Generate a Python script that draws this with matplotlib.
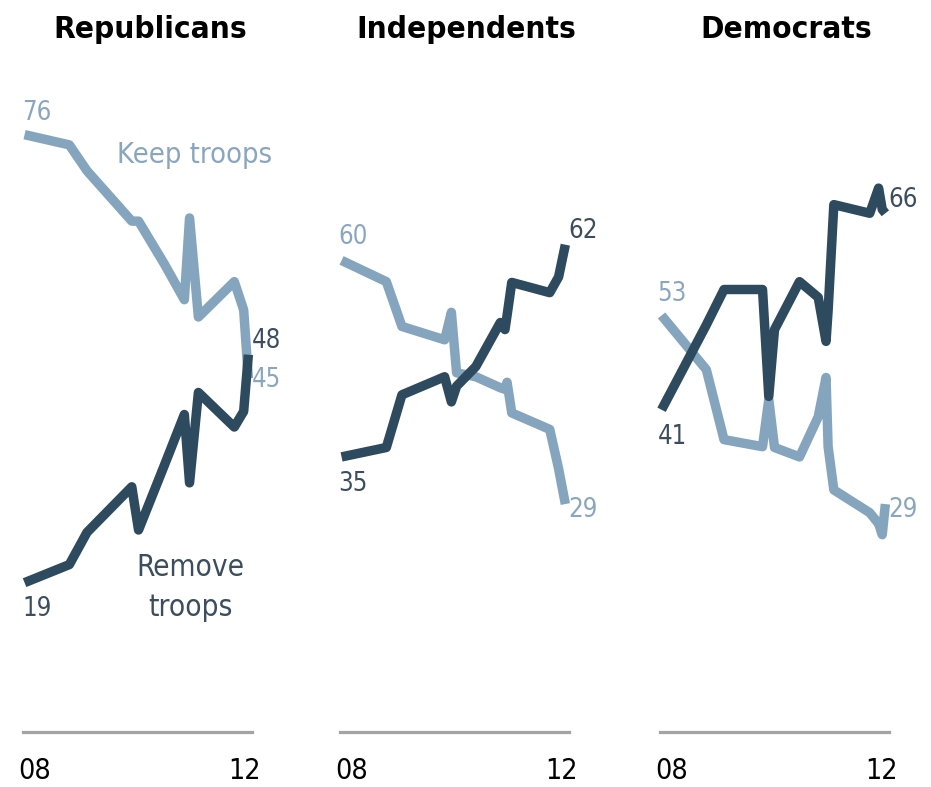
import matplotlib
matplotlib.use("Agg")
import matplotlib.pyplot as plt
import matplotlib.font_manager as fm

# ---------------- data ----------------
panels = ["Republicans", "Independents", "Democrats"]

rep_dates = [2008.00, 2008.86, 2009.20, 2010.06, 2010.19, 2010.69, 2011.07,
             2011.17, 2011.34, 2012.03, 2012.21, 2012.30]
rep_keep = [76, 74.7, 71.4, 65, 65, 59.5, 55, 65.4, 52.8, 57.3, 53.7, 45]
rep_remove = [19, 21.3, 25.4, 31.2, 25.7, 34, 40.4, 31.7, 43.2, 38.8, 40.8, 48]

ind_dates = [2008.00, 2008.86, 2009.16, 2009.98, 2010.11, 2010.21, 2010.58,
             2011.05, 2011.14, 2011.18, 2011.27, 2012.00, 2012.17, 2012.30]
ind_keep = [60, 57.3, 51.6, 49.9, 53.4, 45.7, 45.2, 43.8, 43.6, 44.5, 40.6,
            38.5, 33.5, 29]
ind_remove = [35, 36.2, 42.9, 45.2, 42.0, 44.0, 46.5, 52.1, 51.2, 53.0, 57.2,
              55.9, 57.9, 62]

dem_dates = [2008.00, 2008.86, 2009.20, 2009.94, 2010.06, 2010.17, 2010.65,
             2011.01, 2011.16, 2011.20, 2011.31, 2012.00, 2012.17, 2012.24,
             2012.30]
dem_keep = [53, 46.1, 37.2, 36.3, 42.3, 36.2, 35, 40.1, 45.1, 36.3, 30.8,
            27.9, 26.5, 25.1, 29]
dem_remove = [41, 51.8, 56.3, 56.3, 42.7, 51.2, 57.3, 55.3, 49.7, 53.6, 67.1,
              66, 69.2, 66.5, 66]

tick_labels = ["08", "12"]
series_labels = ["Keep troops", "Remove troops"]

# ---------------- style ----------------
W, H = 931, 787
DARK = "#2e4a5f"
LIGHT = "#85a5bf"
DARK_TXT = "#3b4d5f"
LIGHT_TXT = "#8aa6bf"
GRAY = "#a3a3a3"

names = {f.name for f in fm.fontManager.ttflist}
if "Liberation Sans Narrow" in names:
    FAM = ["Liberation Sans Narrow", "DejaVu Sans"]
    STRETCH = "normal"
    K = 1.0
else:
    FAM = ["DejaVu Sans"]
    STRETCH = "condensed"
    K = 0.82

fig = plt.figure(figsize=(W / 100, H / 100), dpi=100)
fig.patch.set_facecolor("white")

def px_rect(x0, x1, ytop, ybot):
    return [x0 / W, 1 - ybot / H, (x1 - x0) / W, (ybot - ytop) / H]

axes_px = [(23, 252), (340, 569), (660, 889)]
title_cx = [150, 466, 786]
data = [(rep_dates, rep_keep, rep_remove),
        (ind_dates, ind_keep, ind_remove),
        (dem_dates, dem_keep, dem_remove)]

start_keep_off = [(-2, 9), (-3, 10), (-4, 8)]
start_remove_off = [(-2, -13), (-3, -14), (-4, -14)]
end_keep_off = [(3, -2), (3, -6), (3, -6)]
end_remove_off = [(3, 14), (3, 14), (3, 13)]

for i, (name, (dates, keep, remove)) in enumerate(zip(panels, data)):
    x0, x1 = axes_px[i]
    ax = fig.add_axes(px_rect(x0, x1, 60, 732))
    ax.set_xlim(2007.97, 2012.37)
    ax.set_ylim(0, 85.5)
    ax.axis("off")
    ax.axhline(0, color=GRAY, lw=2.3, clip_on=False, zorder=1)

    ax.plot(dates, keep, color=LIGHT, lw=6.8, solid_joinstyle="round",
            solid_capstyle="butt", zorder=2, clip_on=False)
    ax.plot(dates, remove, color=DARK, lw=6.8, solid_joinstyle="round",
            solid_capstyle="butt", zorder=3, clip_on=False)

    numsize = 22.5 * K
    ax.annotate(f"{keep[0]:.0f}", (dates[0], keep[0]), xytext=start_keep_off[i],
                textcoords="offset pixels", ha="left", va="bottom",
                color=LIGHT_TXT, fontsize=numsize, family=FAM, fontstretch=STRETCH)
    ax.annotate(f"{remove[0]:.0f}", (dates[0], remove[0]), xytext=start_remove_off[i],
                textcoords="offset pixels", ha="left", va="top",
                color=DARK_TXT, fontsize=numsize, family=FAM, fontstretch=STRETCH)
    ax.annotate(f"{keep[-1]:.0f}", (dates[-1], keep[-1]), xytext=end_keep_off[i],
                textcoords="offset pixels", ha="left", va="center",
                color=LIGHT_TXT, fontsize=numsize, family=FAM, fontstretch=STRETCH)
    ax.annotate(f"{remove[-1]:.0f}", (dates[-1], remove[-1]), xytext=end_remove_off[i],
                textcoords="offset pixels", ha="left", va="center",
                color=DARK_TXT, fontsize=numsize, family=FAM, fontstretch=STRETCH)

    ax.annotate(tick_labels[0], (0, 0), xycoords="axes fraction",
                xytext=(-5, -39), textcoords="offset pixels", ha="left", va="center",
                color="black", fontsize=25 * K, family=FAM, fontstretch=STRETCH)
    ax.annotate(tick_labels[1], (1, 0), xycoords="axes fraction",
                xytext=(9, -39), textcoords="offset pixels", ha="right", va="center",
                color="black", fontsize=25 * K, family=FAM, fontstretch=STRETCH)

    fig.text(title_cx[i] / W, 1 - 38 / H, name, ha="center", va="baseline",
             fontsize=27.5 * K, fontweight="bold", family=FAM, fontstretch=STRETCH,
             color="black")

fig.text(117 / W, 1 - 155 / H, series_labels[0], ha="left", va="center",
         color=LIGHT_TXT, fontsize=25.5 * K, family=FAM, fontstretch=STRETCH)
rm1, rm2 = series_labels[1].split(" ")
fig.text(190 / W, 1 - 567 / H, rm1, ha="center", va="center",
         color=DARK_TXT, fontsize=26 * K, family=FAM, fontstretch=STRETCH)
fig.text(190 / W, 1 - 607 / H, rm2, ha="center", va="center",
         color=DARK_TXT, fontsize=26 * K, family=FAM, fontstretch=STRETCH)

fig.savefig("out.png", dpi=100, facecolor="white")
